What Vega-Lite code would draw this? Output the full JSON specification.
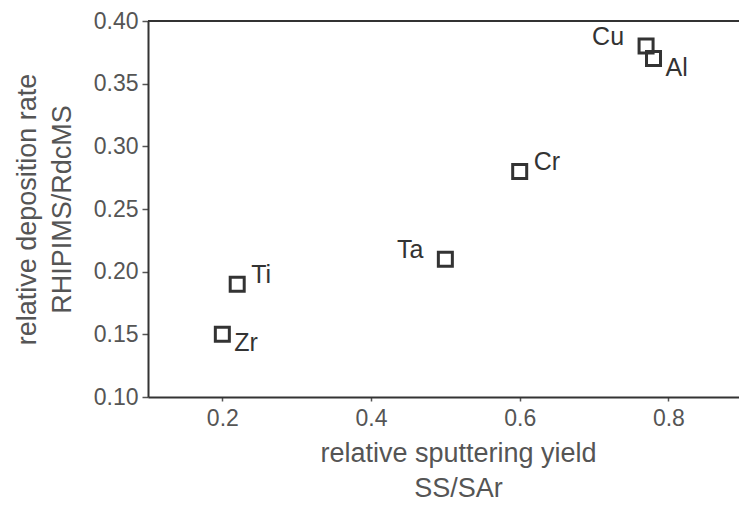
{
  "$schema": "https://vega.github.io/schema/vega-lite/v6.json",
  "autosize": "none",
  "width": 591,
  "height": 376,
  "padding": {"left": 148, "top": 21, "right": 0, "bottom": 108},
  "background": "white",
  "config": {
    "view": {"stroke": null},
    "font": "Liberation Sans",
    "axis": {
      "domainColor": "#333333",
      "domainWidth": 2,
      "tickColor": "#555555",
      "tickWidth": 1.5,
      "grid": false,
      "labelFont": "Liberation Sans",
      "labelFontSize": 23,
      "labelColor": "#555555",
      "titleFont": "Liberation Sans",
      "titleFontSize": 27,
      "titleFontWeight": "normal",
      "titleColor": "#555555",
      "titleLineHeight": 35
    }
  },
  "data": {
    "values": [
      {"metal": "Cu", "yield": 0.77, "rate": 0.38},
      {"metal": "Al", "yield": 0.78, "rate": 0.37},
      {"metal": "Cr", "yield": 0.60, "rate": 0.28},
      {"metal": "Ta", "yield": 0.50, "rate": 0.21},
      {"metal": "Ti", "yield": 0.22, "rate": 0.19},
      {"metal": "Zr", "yield": 0.20, "rate": 0.15}
    ]
  },
  "encoding": {
    "x": {
      "field": "yield",
      "type": "quantitative",
      "scale": {"domain": [0.1, 0.895], "nice": false, "zero": false},
      "axis": {
        "orient": "bottom",
        "values": [0.2, 0.4, 0.6, 0.8],
        "format": ".1f",
        "tickSize": 4,
        "labelPadding": 6,
        "title": ["relative sputtering yield", "SS/SAr"],
        "titleAnchor": "start",
        "titleAlign": "center",
        "titleBaseline": "middle",
        "titleX": 310,
        "titleY": 56
      }
    },
    "y": {
      "field": "rate",
      "type": "quantitative",
      "scale": {"domain": [0.1, 0.4], "nice": false, "zero": false},
      "axis": {
        "orient": "left",
        "values": [0.1, 0.15, 0.2, 0.25, 0.3, 0.35, 0.4],
        "format": ".2f",
        "tickSize": 6,
        "labelPadding": 4,
        "title": ["relative deposition rate", "RHIPIMS/RdcMS"],
        "titleAngle": -90,
        "titleAlign": "center",
        "titleBaseline": "middle",
        "titleX": -121,
        "titleY": 188
      }
    }
  },
  "layer": [
    {
      "mark": {"type": "rule", "color": "#333333", "strokeWidth": 2},
      "encoding": {
        "y": {"datum": 0.4, "type": "quantitative"},
        "x": {"datum": 0.1, "type": "quantitative"},
        "x2": {"datum": 0.895}
      }
    },
    {
      "mark": {"type": "point", "shape": "square", "filled": false, "size": 196, "strokeWidth": 3, "color": "#333333", "opacity": 1}
    },
    {
      "transform": [{"filter": {"field": "metal", "oneOf": ["Cr", "Ti"]}}],
      "mark": {"type": "text", "align": "left", "baseline": "middle", "dx": 14, "dy": -9, "fontSize": 25, "color": "#333333", "font": "Liberation Sans"},
      "encoding": {"text": {"field": "metal"}}
    },
    {
      "transform": [{"filter": {"field": "metal", "oneOf": ["Zr", "Al"]}}],
      "mark": {"type": "text", "align": "left", "baseline": "middle", "dx": 12, "dy": 9, "fontSize": 25, "color": "#333333", "font": "Liberation Sans"},
      "encoding": {"text": {"field": "metal"}}
    },
    {
      "transform": [{"filter": {"field": "metal", "oneOf": ["Ta", "Cu"]}}],
      "mark": {"type": "text", "align": "right", "baseline": "middle", "dx": -22, "dy": -9, "fontSize": 25, "color": "#333333", "font": "Liberation Sans"},
      "encoding": {"text": {"field": "metal"}}
    }
  ]
}
